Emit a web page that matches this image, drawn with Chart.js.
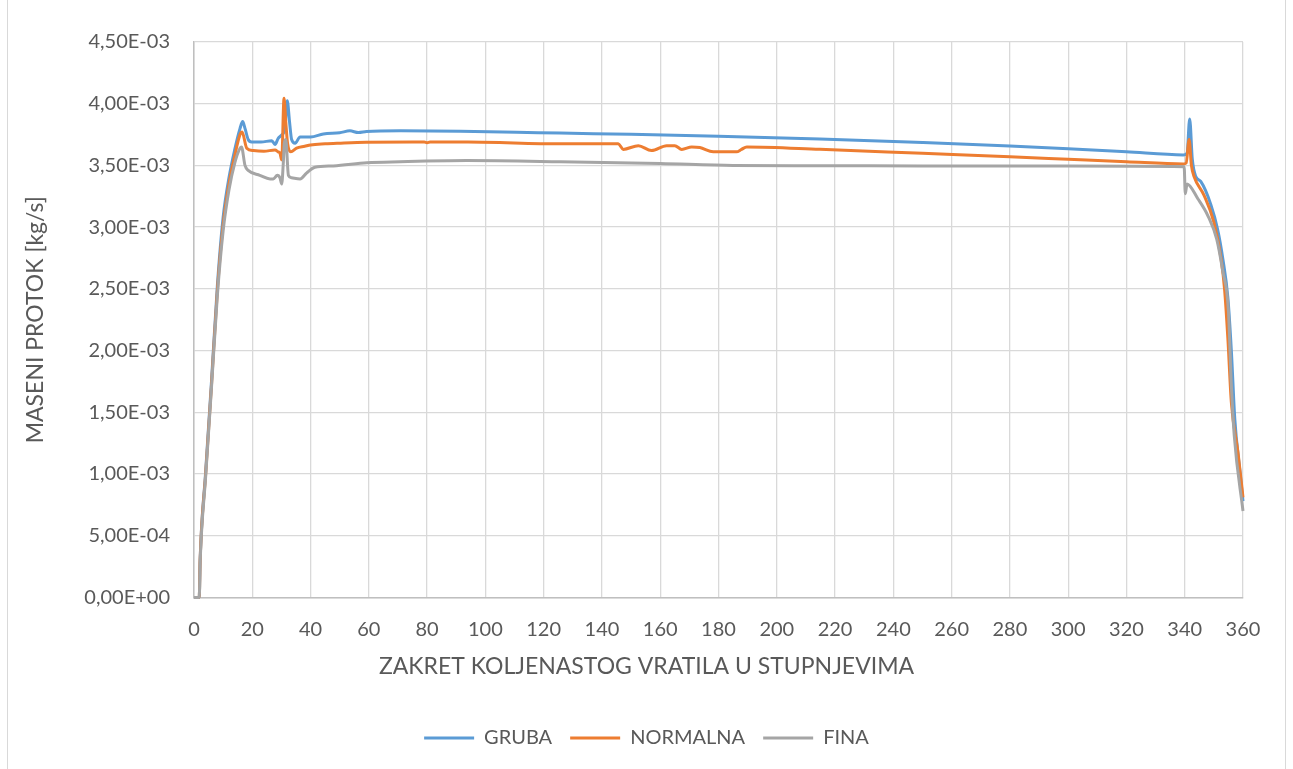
<!DOCTYPE html>
<html>
<head>
<meta charset="utf-8">
<script src="https://cdn.jsdelivr.net/npm/chart.js@4.4.1/dist/chart.umd.min.js"></script>
<style>
  html, body { margin: 0; padding: 0; background: #ffffff; }
  #wrap { position: relative; width: 1293px; height: 769px; }
</style>
</head>
<body>
<div id="wrap"><canvas id="c" width="1293" height="769"></canvas></div>
<script>
// ---- DATA (y values in units of 1E-03 kg/s) ----
const seriesNames = ['GRUBA', 'NORMALNA', 'FINA'];
const seriesColors = ['#5B9BD5', '#ED7D31', '#A5A5A5'];

const grubaX = [0, 1, 1.8, 2.1, 4, 6, 8, 10, 12, 14, 15.8, 16.7, 17.5, 18.6, 19.8, 23, 26.7, 27.8, 28.9, 30.1, 31.2, 32.0, 32.8, 33.5, 34.7, 36.4, 40, 44.4, 50, 53.5, 56.4, 59.2, 70.7, 91.3, 110.7, 125.6, 150, 180, 214.8, 250, 280, 300, 320, 339.5, 340.8, 341.7, 342.6, 343.8, 345.5, 349, 351.3, 353.1, 354.8, 356, 357.2, 358.9, 360];
const grubaY = [0, 0, 0, 0.3, 1.02, 1.75, 2.52, 3.08, 3.4, 3.63, 3.80, 3.855, 3.8, 3.71, 3.69, 3.69, 3.70, 3.67, 3.72, 3.747, 3.8, 4.025, 3.85, 3.71, 3.68, 3.73, 3.73, 3.755, 3.765, 3.78, 3.766, 3.774, 3.78, 3.777, 3.769, 3.762, 3.752, 3.737, 3.715, 3.685, 3.657, 3.635, 3.61, 3.585, 3.6, 3.877, 3.55, 3.41, 3.37, 3.18, 2.98, 2.74, 2.43, 2.0, 1.44, 1.03, 0.78];

const normalnaX = [0, 1, 1.8, 2.1, 4, 6, 8, 10, 12, 14, 15.8, 16.5, 18.1, 20.4, 24, 27.8, 28.9, 29.5, 30.1, 30.9, 31.5, 32.1, 33.2, 35.2, 38, 40, 45, 49.5, 59.2, 79, 80, 81, 94, 125.6, 145.6, 147.3, 152.5, 157, 162.2, 165, 167.4, 170.8, 173.6, 178.2, 186.2, 187.9, 189.7, 214.8, 250, 280, 300, 320, 339.5, 340.5, 341.5, 342.3, 343.2, 346.6, 350, 352.5, 353.7, 354.8, 356, 358.3, 360];
const normalnaY = [0, 0, 0, 0.3, 1.0, 1.72, 2.48, 3.02, 3.35, 3.58, 3.75, 3.77, 3.64, 3.62, 3.615, 3.625, 3.61, 3.60, 3.545, 4.045, 3.85, 3.68, 3.61, 3.64, 3.655, 3.666, 3.675, 3.68, 3.688, 3.69, 3.684, 3.69, 3.69, 3.675, 3.675, 3.63, 3.66, 3.62, 3.66, 3.66, 3.63, 3.65, 3.645, 3.61, 3.61, 3.63, 3.65, 3.631, 3.598, 3.57, 3.55, 3.53, 3.512, 3.52, 3.71, 3.5, 3.41, 3.26, 3.04, 2.74, 2.49, 2.10, 1.58, 1.17, 0.81];

const finaX = [0, 1, 1.8, 2.1, 4, 6, 8, 10, 12, 14, 15.8, 16.3, 17.5, 18.6, 22.6, 26.1, 27.2, 28.6, 29.5, 30.1, 30.6, 31.0, 31.5, 32.4, 33.5, 36.4, 38.7, 41.5, 47.8, 59.3, 70.7, 93.6, 125.6, 160, 185, 214.8, 250, 300, 339.8, 340.2, 340.8, 344.5, 348, 351, 353, 355, 356, 357, 360];
const finaY = [0, 0, 0, 0.28, 0.98, 1.7, 2.44, 2.97, 3.3, 3.52, 3.64, 3.65, 3.5, 3.46, 3.42, 3.39, 3.39, 3.42, 3.40, 3.35, 3.5, 3.68, 3.71, 3.42, 3.40, 3.39, 3.44, 3.485, 3.496, 3.522, 3.53, 3.539, 3.53, 3.515, 3.50, 3.498, 3.496, 3.495, 3.49, 3.27, 3.35, 3.23, 3.09, 2.90, 2.65, 2.32, 1.72, 1.31, 0.70];

const yTickLabels = ['0,00E+00', '5,00E-04', '1,00E-03', '1,50E-03', '2,00E-03', '2,50E-03', '3,00E-03', '3,50E-03', '4,00E-03', '4,50E-03'];
const xTickLabels = ['0', '20', '40', '60', '80', '100', '120', '140', '160', '180', '200', '220', '240', '260', '280', '300', '320', '340', '360'];
const xTitle = 'ZAKRET KOLJENASTOG VRATILA U STUPNJEVIMA';
const yTitle = 'MASENI PROTOK [kg/s]';

// ---- build ----
const xs = [grubaX, normalnaX, finaX];
const ys = [grubaY, normalnaY, finaY];
const datasets = seriesNames.map((name, i) => ({
  label: name,
  data: xs[i].map((x, k) => ({ x: x, y: ys[i][k] })),
  borderColor: seriesColors[i],
  backgroundColor: seriesColors[i],
  borderWidth: 3,
  pointRadius: 0,
  pointHoverRadius: 0,
  pointStyle: 'line',
  tension: 0,
  cubicInterpolationMode: 'monotone',
  order: seriesNames.length - i,
  clip: false
}));

const TXT = '#595959';
const FONT = 'Lato, "Open Sans", sans-serif';

const borderPlugin = {
  id: 'outerBorder',
  beforeDraw(chart) {
    const ctx = chart.ctx;
    ctx.save();
    ctx.fillStyle = '#ffffff';
    ctx.fillRect(0, 0, chart.width, chart.height);
    ctx.strokeStyle = '#d9d9d9';
    ctx.lineWidth = 1;
    ctx.strokeRect(7.5, -2, 1278, chart.height + 4);
    ctx.restore();
  }
};

new Chart(document.getElementById('c'), {
  type: 'line',
  data: { datasets },
  plugins: [borderPlugin],
  options: {
    responsive: false,
    animation: false,
    events: [],
    layout: { padding: { left: 0, right: 0, top: 42, bottom: 11 } },
    plugins: {
      tooltip: { enabled: false },
      title: {
        display: true,
        position: 'bottom',
        weight: 500,
        text: xTitle,
        color: TXT,
        font: { family: FONT, size: 23, weight: 'normal' },
        padding: { top: 3, bottom: 30 }
      },
      legend: {
        position: 'bottom',
        labels: {
          usePointStyle: true,
          pointStyle: 'line',
          pointStyleWidth: 50,
          boxHeight: 20,
          padding: 18,
          color: TXT,
          font: { family: FONT, size: 20 },
          sort: (a, b) => a.datasetIndex - b.datasetIndex
        }
      }
    },
    scales: {
      x: {
        type: 'linear',
        min: 0, max: 360,
        afterFit(scale) { scale.height = 52; scale.paddingRight = 50; },
        afterBuildTicks(scale) { scale.ticks = xTickLabels.map(v => ({ value: Number(v) })); },
        ticks: {
          stepSize: 20, autoSkip: false, maxRotation: 0, padding: 20,
          color: TXT, font: { family: FONT, size: 20 },
          callback: (v, i) => xTickLabels[i]
        },
        grid: { color: '#d9d9d9', lineWidth: 1.3, drawTicks: false },
        border: { color: '#bfbfbf', width: 1.5 }
      },
      y: {
        type: 'linear',
        min: 0, max: 4.5,
        afterFit(scale) { scale.width = 194; },
        afterBuildTicks(scale) { scale.ticks = yTickLabels.map((t, i) => ({ value: i * 0.5 })); },
        ticks: {
          stepSize: 0.5, padding: 24,
          color: TXT, font: { family: FONT, size: 20 },
          callback: (v, i) => yTickLabels[i]
        },
        grid: { color: '#d9d9d9', lineWidth: 1.3, drawTicks: false },
        border: { color: '#bfbfbf', width: 1.5 },
        title: {
          display: true, text: yTitle, color: TXT,
          font: { family: FONT, size: 23 },
          padding: { top: 22, bottom: 0 }
        }
      }
    }
  }
});
</script>
</body>
</html>
